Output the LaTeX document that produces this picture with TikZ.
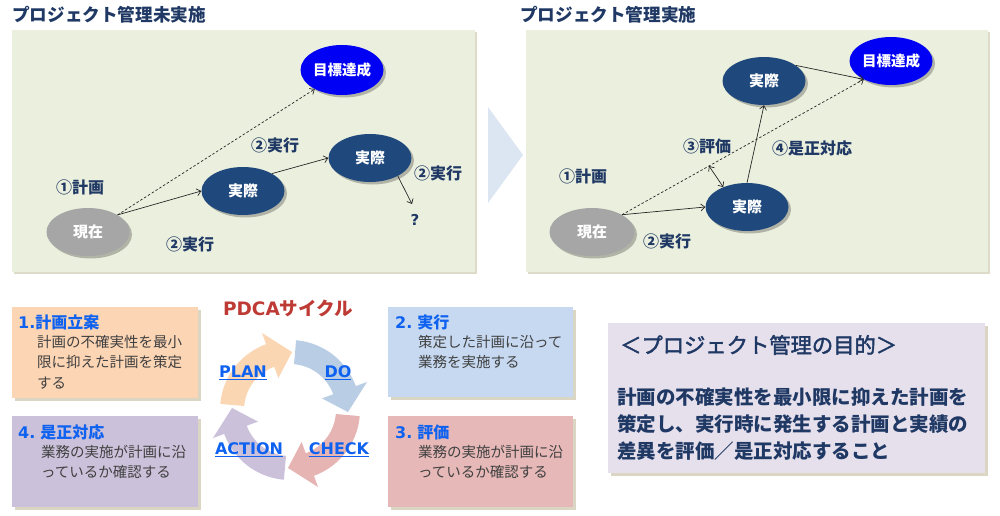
\documentclass[tikz,border=0pt]{standalone}
\usepackage{fontspec}
\setmainfont{Noto Sans CJK JP}
\newfontfamily\lat{DejaVu Sans}
\newfontfamily\jpmed{Noto Sans CJK JP}[FakeBold=2]
\usetikzlibrary{shapes.geometric,arrows.meta,shadows}
\definecolor{navy}{HTML}{1F3864}
\definecolor{panelbg}{HTML}{EBF0DE}
\definecolor{nodenavy}{HTML}{1F497D}
\definecolor{nodegray}{HTML}{A6A6A6}
\definecolor{goalblue}{HTML}{0000F5}
\definecolor{chevc}{HTML}{DCE6F2}
\definecolor{orangebox}{HTML}{FCD5B5}
\definecolor{bluebox}{HTML}{C6D9F1}
\definecolor{pinkbox}{HTML}{E6B9B8}
\definecolor{purplebox}{HTML}{CCC1DA}
\definecolor{aimbox}{HTML}{E5E0EC}
\definecolor{titleblue}{HTML}{0F62F0}
\definecolor{bodygray}{HTML}{404040}
\definecolor{pdcared}{HTML}{BE3A34}
\definecolor{planc}{HTML}{FAD6B2}
\definecolor{doc}{HTML}{B9CDE5}
\definecolor{checkc}{HTML}{E6B4B3}
\definecolor{actc}{HTML}{CCC1DA}
\definecolor{shadowc}{HTML}{D6D2BC}
\tikzset{
  panel/.style={fill=panelbg, draw=none, inner sep=0pt, anchor=north west,
    drop shadow={shadow xshift=2pt, shadow yshift=-2pt, fill=shadowc, opacity=0.8}},
  oval/.style={ellipse, draw=none, inner sep=0pt, minimum width=83pt, minimum height=48pt,
    text=white, font=\fontsize{15}{15}\selectfont\bfseries,
    drop shadow={shadow xshift=2.5pt, shadow yshift=-2.5pt, fill=black, opacity=0.25}},
  lbl/.style={text=navy, font=\fontsize{16}{16}\selectfont\bfseries, inner sep=0pt},
  conn/.style={draw=black!85, line width=0.7pt, -{Straight Barb[length=4pt,width=7pt]}},
  box/.style={draw=none, inner sep=0pt, anchor=north west,
    drop shadow={shadow xshift=2.5pt, shadow yshift=-2.5pt, fill=shadowc, opacity=0.9}},
  boxtitle/.style={anchor=west, inner sep=0pt, text=titleblue, font=\fontsize{16}{16}\selectfont\bfseries},
  boxbody/.style={anchor=north west, inner sep=0pt, text=bodygray, align=left,
    font=\fontsize{14.5}{20.5}\selectfont},
  cyc/.style={inner sep=0pt, text=titleblue, font=\lat\fontsize{16}{16}\selectfont\bfseries},
}
\begin{document}
\begin{tikzpicture}[x=1pt,y=-1pt]
\useasboundingbox (0,0) rectangle (1000,516);
% titles
\node[anchor=west, inner sep=0pt, text=navy, font=\fontsize{17.6}{17.6}\selectfont\bfseries] (t1) at (12,15) {プロジェクト管理未実施};
\node[anchor=west, inner sep=0pt, text=navy, font=\fontsize{17.6}{17.6}\selectfont\bfseries] (t2) at (520,15) {プロジェクト管理実施};
% panels
\node[panel, minimum width=463pt, minimum height=242pt] (lp) at (12,30) {};
\node[panel, minimum width=462pt, minimum height=242pt] (rp) at (526,30) {};
% chevron
\fill[chevc] (488,107) -- (523,155) -- (488,203) -- cycle;

% left panel
\node[oval, fill=nodegray] (now) at (88,232) {現在};
\node[oval, fill=nodenavy] (act1) at (243,191) {実際};
\node[oval, fill=nodenavy] (act2) at (370,158) {実際};
\node[oval, fill=goalblue, minimum height=50pt, font=\fontsize{14.5}{14.5}\selectfont\bfseries] (goal) at (342,70) {目標達成};
\node[text=navy, font=\lat\fontsize{15}{15}\selectfont\bfseries, inner sep=0pt] (q) at (415,220) {?};
\coordinate (qend) at (412,204);
\draw[conn, dashed, dash pattern=on 2.5pt off 2pt] (now.30) -- (goal.215);
\draw[conn] (now.30) -- (act1.west);
\draw[conn] (act1.31) -- (act2.west);
\draw[conn] (act2.-33) -- (qend);
\node[lbl] (l1) at (80,187) {①計画};
\node[lbl] (l2) at (275,145) {②実行};
\node[lbl] (l3) at (438,173) {②実行};
\node[lbl] (l4) at (190,244) {②実行};

% right panel
\node[oval, fill=nodegray, minimum width=85pt] (now2) at (592,232) {現在};
\node[oval, fill=nodenavy] (act3) at (747,207) {実際};
\node[oval, fill=nodenavy] (act4) at (764,81) {実際};
\node[oval, fill=goalblue, font=\fontsize{14.5}{14.5}\selectfont\bfseries] (goal2) at (891,61) {目標達成};
\draw[conn, dashed, dash pattern=on 2.5pt off 2pt] (now2.30) -- (goal2.214) coordinate[pos=0.36] (mid);
\draw[conn] (now2.30) -- (act3.west);
\draw[conn] (act3.north) -- (act4.south);
\draw[conn] (act4.26) -- (goal2.214);
\draw[conn, {Straight Barb[length=4pt,width=7pt]}-{Straight Barb[length=4pt,width=7pt]}] (mid) -- (act3.140);
\node[lbl] (r1) at (583,176) {①計画};
\node[lbl] (r2) at (667,241) {②実行};
\node[lbl] (r3) at (707,146) {③評価};
\node[lbl] (r4) at (812,148) {④是正対応};

% bottom boxes
\node[box, fill=orangebox, minimum width=186pt, minimum height=91pt] (b1) at (12,307) {};
\node[boxtitle] (b1t) at (18,322) {{\lat 1.}計画立案};
\node[boxbody] (b1b) at (37,335) {計画の不確実性を最小\\限に抑えた計画を策定\\する};

\node[box, fill=purplebox, minimum width=186pt, minimum height=91pt] (b4) at (12,416) {};
\node[boxtitle] (b4t) at (18,432) {{\lat 4.} 是正対応};
\node[boxbody] (b4b) at (41,445) {業務の実施が計画に沿\\っているか確認する};

\node[box, fill=bluebox, minimum width=185pt, minimum height=90pt] (b2) at (388,307) {};
\node[boxtitle] (b2t) at (395,322) {{\lat 2.} 実行};
\node[boxbody] (b2b) at (418,335) {策定した計画に沿って\\業務を実施する};

\node[box, fill=pinkbox, minimum width=185pt, minimum height=91pt] (b3) at (388,416) {};
\node[boxtitle] (b3t) at (395,432) {{\lat 3.} 評価};
\node[boxbody] (b3b) at (418,445) {業務の実施が計画に沿\\っているか確認する};

% PDCA cycle
\node[inner sep=0pt, text=pdcared, font=\fontsize{18.5}{18.5}\selectfont\bfseries] (pdca) at (288,308) {{\lat PDCA}サイクル};
\begin{scope}[shift={(290,410)}]
\foreach \a/\b/\t/\c in {-175/-110/-88/planc, -85/-20/2/doc, 5/70/92/checkc, 95/160/182/actc}{
  \fill[\c] plot[domain=\a:\b,samples=30] (\x:70) -- (\b:82) -- (\t:58) -- (\b:34)
    -- plot[domain=\b:\a,samples=30] (\x:46) -- cycle;
}
\end{scope}
\node[cyc] (plan) at (243,373) {\underline{PLAN}};
\node[cyc] (do) at (338,373) {\underline{DO}};
\node[cyc] (check) at (339,450) {\underline{CHECK}};
\node[cyc] (action) at (249,450) {\underline{ACTION}};

% aim box
\node[box, fill=aimbox, minimum width=377pt, minimum height=150pt] (aim) at (608,323) {};
\node[anchor=west, inner sep=0pt, text=navy, font=\jpmed\fontsize{21.3}{21.3}\selectfont] (aimt) at (620,345) {＜プロジェクト管理の目的＞};
\node[anchor=north west, inner sep=0pt, align=left, text=navy, font=\fontsize{19.5}{27}\selectfont\bfseries] (aimb) at (617,388) {計画の不確実性を最小限に抑えた計画を\\策定し、実行時に発生する計画と実績の\\差異を評価／是正対応すること};
\end{tikzpicture}
\end{document}
